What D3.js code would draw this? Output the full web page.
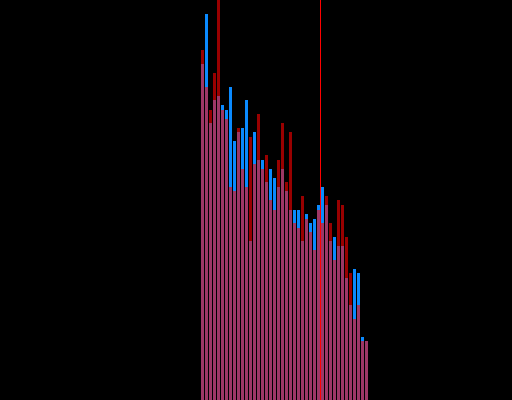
<!DOCTYPE html>
<html>
<head>
<meta charset="utf-8">
<script src="https://cdn.jsdelivr.net/npm/d3@7"></script>
<style>
  html, body { margin: 0; padding: 0; background: #000; }
  svg { display: block; }
</style>
</head>
<body>
<svg id="chart" width="512" height="400"></svg>
<script>
const bins = d3.range(42).map(i => "b" + i);
const blueValues = [336, 386, 277, 300, 304, 295, 290, 313, 259, 268,
                    272, 300, 159, 268, 240, 240, 218, 231, 222, 213,
                    231, 209, 190, 190, 190, 159, 186, 177, 181, 195,
                    213, 195, 159, 163, 154, 154, 122, 95, 131, 127,
                    63, 59];
const redValues = [350, 313, 290, 327, 420, 290, 281, 213, 209, 272,
                   231, 213, 263, 236, 286, 231, 245, 200, 190, 240,
                   277, 218, 268, 177, 172, 204, 181, 168, 150, 190,
                   177, 204, 177, 140, 200, 195, 163, 127, 81, 95,
                   59, 59];
const markerPosition = 29.875; // in bin units

const W = 512, H = 400;
const svg = d3.select("#chart");
svg.append("rect").attr("width", W).attr("height", H).attr("fill", "#000");

const x = d3.scaleBand().domain(bins).range([201, 368]).paddingInner(0.25).paddingOuter(0);
const y = d3.scaleLinear().domain([0, 400]).range([H, 0]);
const xPos = d3.scaleLinear().domain([0, bins.length]).range([201, 201 + x.step() * bins.length]);

const g = svg.append("g").attr("shape-rendering", "crispEdges");

g.selectAll("rect.blue").data(blueValues).join("rect")
  .attr("class", "blue")
  .attr("x", (d, i) => x(bins[i]))
  .attr("width", x.bandwidth())
  .attr("y", d => y(d))
  .attr("height", d => H - y(d))
  .attr("fill", "#0a8aff");

g.selectAll("rect.red").data(redValues).join("rect")
  .attr("class", "red")
  .attr("x", (d, i) => x(bins[i]))
  .attr("width", x.bandwidth())
  .attr("y", d => y(d))
  .attr("height", d => H - y(d))
  .attr("fill", "red")
  .attr("fill-opacity", 0.6);

svg.append("line")
  .attr("x1", xPos(markerPosition)).attr("x2", xPos(markerPosition))
  .attr("y1", 0).attr("y2", H)
  .attr("stroke", "red")
  .attr("stroke-width", 1);
</script>
</body>
</html>
